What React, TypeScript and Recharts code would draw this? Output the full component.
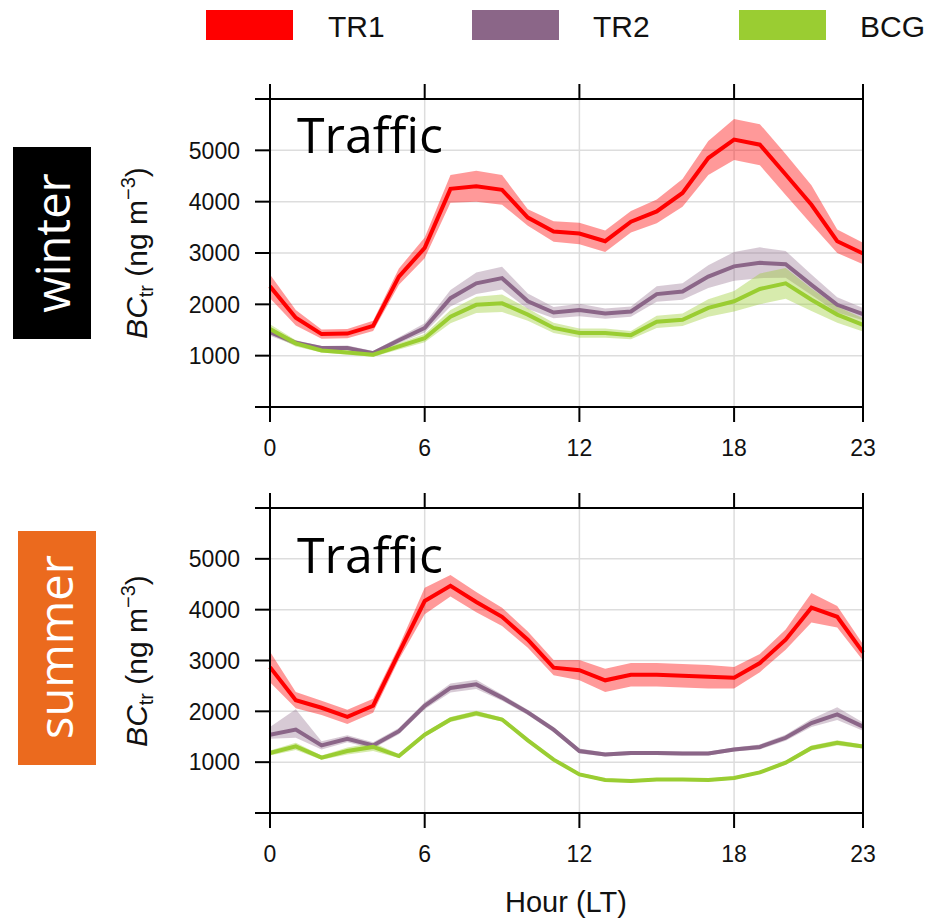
import React from 'react';
import { ComposedChart, Area, Line, XAxis, YAxis, CartesianGrid } from 'recharts';

// hours of the day (local time)
const hours = [0, 1, 2, 3, 4, 5, 6, 7, 8, 9, 10, 11, 12, 13, 14, 15, 16, 17, 18, 19, 20, 21, 22, 23];
const hourTicks = [0, 6, 12, 18, 23];
const concTicks = [0, 1000, 2000, 3000, 4000, 5000, 6000];

// winter, ng m-3
const tr1Winter = [2350, 1740, 1420, 1430, 1580, 2540, 3100, 4250, 4300, 4230, 3690, 3420, 3380, 3230, 3610, 3810, 4170, 4850, 5210, 5110, 4530, 3940, 3230, 2990];
const tr1WinterErr = [230, 150, 90, 90, 100, 160, 200, 270, 300, 290, 160, 200, 210, 210, 210, 230, 270, 330, 400, 400, 400, 380, 230, 210];
const tr2Winter = [1460, 1250, 1150, 1150, 1050, 1300, 1540, 2120, 2410, 2510, 2060, 1840, 1890, 1820, 1860, 2200, 2250, 2540, 2740, 2810, 2780, 2380, 1990, 1810];
const tr2WinterErr = [70, 50, 40, 50, 40, 60, 90, 160, 210, 220, 150, 110, 120, 100, 100, 150, 160, 220, 280, 300, 260, 200, 150, 120];
const bcgWinter = [1520, 1240, 1100, 1060, 1020, 1180, 1340, 1760, 1990, 2020, 1800, 1540, 1440, 1440, 1400, 1660, 1700, 1930, 2060, 2300, 2410, 2090, 1800, 1600];
const bcgWinterErr = [90, 60, 40, 40, 40, 60, 80, 130, 160, 170, 120, 100, 90, 90, 80, 120, 120, 170, 200, 300, 300, 220, 160, 130];

// summer, ng m-3
const tr1Summer = [2870, 2220, 2070, 1890, 2110, 3150, 4170, 4470, 4150, 3860, 3410, 2860, 2810, 2610, 2720, 2720, 2700, 2680, 2660, 2950, 3410, 4040, 3860, 3160];
const tr1SummerErr = [300, 160, 140, 140, 140, 130, 260, 210, 200, 180, 160, 150, 200, 230, 230, 230, 230, 230, 210, 180, 200, 290, 210, 160];
const tr2Summer = [1540, 1640, 1330, 1460, 1330, 1610, 2110, 2460, 2530, 2270, 1980, 1640, 1220, 1150, 1180, 1180, 1170, 1170, 1250, 1300, 1480, 1770, 1940, 1700];
const tr2SummerErrDn = [80, 160, 80, 70, 60, 60, 70, 90, 90, 60, 50, 50, 50, 40, 40, 40, 40, 40, 40, 50, 60, 80, 110, 80];
const tr2SummerErrUp = [150, 400, 80, 70, 60, 60, 70, 90, 90, 60, 50, 50, 50, 40, 40, 40, 40, 40, 40, 50, 60, 80, 140, 80];
const bcgSummer = [1180, 1310, 1090, 1220, 1300, 1120, 1540, 1840, 1960, 1840, 1430, 1050, 760, 650, 630, 660, 660, 650, 690, 800, 990, 1280, 1380, 1310];
const bcgSummerErr = [50, 70, 40, 70, 80, 40, 40, 50, 50, 40, 30, 30, 30, 30, 30, 30, 30, 30, 30, 30, 40, 50, 50, 40];

const RED = '#FF0000';
const PURPLE = '#8B6688';
const GREEN = '#9ACD32';
const AXIS_FONT = '"Liberation Sans", Arial, sans-serif';
const LABEL_FONT = '"Open Sans", "Noto Sans", sans-serif';

const band = (mean: number[], dn: number[], up: number[] = dn) =>
  mean.map((m, i) => [m - dn[i], m + up[i]]);

function buildRows(tr1: number[][], tr2: number[][], bcg: number[][], m: number[][]) {
  return hours.map((h, i) => ({
    hour: h,
    tr1: m[0][i],
    tr2: m[1][i],
    bcg: m[2][i],
    tr1Band: tr1[i],
    tr2Band: tr2[i],
    bcgBand: bcg[i],
  }));
}

const winterRows = buildRows(
  band(tr1Winter, tr1WinterErr),
  band(tr2Winter, tr2WinterErr),
  band(bcgWinter, bcgWinterErr),
  [tr1Winter, tr2Winter, bcgWinter]
);
const summerRows = buildRows(
  band(tr1Summer, tr1SummerErr),
  band(tr2Summer, tr2SummerErrDn, tr2SummerErrUp),
  band(bcgSummer, bcgSummerErr),
  [tr1Summer, tr2Summer, bcgSummer]
);

const axisStyle = { stroke: '#000', strokeWidth: 2 };

const YTick = (props: any) => {
  const { x, y, payload } = props;
  const v = payload.value;
  if (v <= 0 || v >= 6000) return <g />;
  return (
    <text x={x} y={y} dy="0.36em" textAnchor="end" fontSize={23} fill="#111" fontFamily={AXIS_FONT}>
      {v}
    </text>
  );
};

const XTick = (props: any) => {
  const { x, y, payload } = props;
  return (
    <text x={x} y={y} dy="0.72em" textAnchor="middle" fontSize={23} fill="#111" fontFamily={AXIS_FONT}>
      {payload.value}
    </text>
  );
};

const NoTick = () => <g />;

function Panel({ rows, top, height, marginTop }: { rows: any[]; top: number; height: number; marginTop: number }) {
  return (
    <div style={{ position: 'absolute', left: 0, top }}>
      <ComposedChart
        width={930}
        height={height}
        data={rows}
        margin={{ top: marginTop, right: 37, bottom: 0, left: 190 }}
      >
        <CartesianGrid stroke="#dddddd" strokeWidth={1.5} />
        <XAxis
          dataKey="hour"
          type="number"
          domain={[0, 23]}
          ticks={hourTicks}
          interval={0}
          height={64}
          tickSize={15}
          tickMargin={17}
          tick={<XTick />}
          axisLine={axisStyle}
          tickLine={axisStyle}
        />
        <XAxis
          xAxisId="top"
          orientation="top"
          dataKey="hour"
          type="number"
          domain={[0, 23]}
          ticks={hourTicks}
          interval={0}
          height={30}
          tickSize={15}
          tick={<NoTick />}
          axisLine={axisStyle}
          tickLine={axisStyle}
        />
        <YAxis
          type="number"
          domain={[0, 6000]}
          ticks={concTicks}
          interval={0}
          width={80}
          tickSize={15}
          tickMargin={15}
          tick={<YTick />}
          axisLine={axisStyle}
          tickLine={axisStyle}
        />
        <YAxis
          yAxisId="right"
          orientation="right"
          type="number"
          domain={[0, 6000]}
          ticks={concTicks}
          interval={0}
          width={30}
          tickSize={15}
          tick={<NoTick />}
          axisLine={axisStyle}
          tickLine={axisStyle}
        />
        <Area type="linear" dataKey="tr1Band" stroke="none" fill={RED} fillOpacity={0.4} isAnimationActive={false} activeDot={false} />
        <Line type="linear" dataKey="tr1" stroke={RED} strokeWidth={4} dot={false} isAnimationActive={false} />
        <Area type="linear" dataKey="tr2Band" stroke="none" fill={PURPLE} fillOpacity={0.35} isAnimationActive={false} activeDot={false} />
        <Line type="linear" dataKey="tr2" stroke={PURPLE} strokeWidth={4} dot={false} isAnimationActive={false} />
        <Area type="linear" dataKey="bcgBand" stroke="none" fill={GREEN} fillOpacity={0.4} isAnimationActive={false} activeDot={false} />
        <Line type="linear" dataKey="bcg" stroke={GREEN} strokeWidth={4} dot={false} isAnimationActive={false} />
      </ComposedChart>
    </div>
  );
}

function YTitle({ cy }: { cy: number }) {
  return (
    <text
      x={147}
      y={cy}
      transform={`rotate(-90 147 ${cy})`}
      textAnchor="middle"
      fontSize={30}
      fontFamily={AXIS_FONT}
      fill="#111"
    >
      <tspan fontStyle="italic">BC</tspan>
      <tspan fontSize={20} dy={6}>tr</tspan>
      <tspan dy={-6}> (ng m</tspan>
      <tspan fontSize={20} dy={-12}>−3</tspan>
      <tspan dy={12}>)</tspan>
    </text>
  );
}

export default function App() {
  return (
    <div style={{ position: 'absolute', left: 0, top: 0, width: 930, height: 923, background: '#fff' }}>
      <Panel rows={winterRows} top={0} height={471} marginTop={69} />
      <Panel rows={summerRows} top={460} height={417} marginTop={18} />
      <svg
        width={930}
        height={923}
        style={{ position: 'absolute', left: 0, top: 0, pointerEvents: 'none' }}
      >
        {/* legend */}
        <rect x={206} y={10} width={87} height={30} fill={RED} />
        <text x={328} y={37} fontSize={30} fontFamily={AXIS_FONT} fill="#111">TR1</text>
        <rect x={472} y={10} width={87} height={30} fill={PURPLE} />
        <text x={593} y={37} fontSize={30} fontFamily={AXIS_FONT} fill="#111">TR2</text>
        <rect x={739} y={10} width={87} height={30} fill={GREEN} />
        <text x={860} y={37} fontSize={30} fontFamily={AXIS_FONT} fill="#111">BCG</text>

        {/* season tags */}
        <rect x={13} y={147} width={78} height={192} fill="#000" />
        <text x={70} y={243} transform="rotate(-90 70 243)" textAnchor="middle" fontSize={47} fontFamily={LABEL_FONT} fill="#fff">
          winter
        </text>
        <rect x={18} y={531} width={78} height={234} fill="#EB6A1E" />
        <text x={73} y={647} transform="rotate(-90 73 647)" textAnchor="middle" fontSize={47} fontFamily={LABEL_FONT} fill="#fff">
          summer
        </text>

        <YTitle cy={253} />
        <YTitle cy={661} />

        <text x={297} y={153} fontSize={50} fontFamily={LABEL_FONT} fill="#000">Traffic</text>
        <text x={297} y={573} fontSize={50} fontFamily={LABEL_FONT} fill="#000">Traffic</text>

        <text x={566} y={912} textAnchor="middle" fontSize={29} fontFamily={AXIS_FONT} fill="#111">Hour (LT)</text>
      </svg>
    </div>
  );
}
